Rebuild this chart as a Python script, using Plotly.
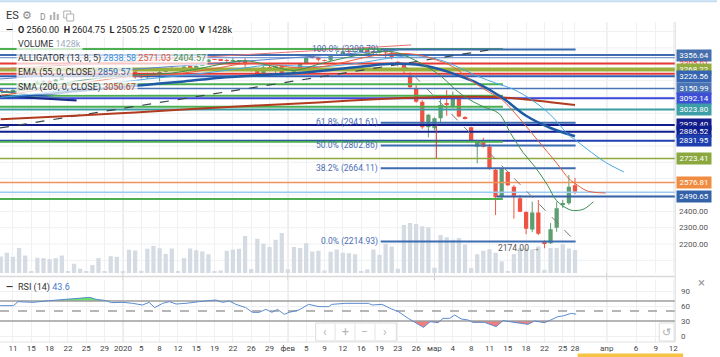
import plotly.graph_objects as go

W, H = 720, 357

# ---------------- data ----------------
# bar index 0 = 11 Dec 2019; one bar per session (Sunday sessions are separate bars)
bar_index = list(range(-2, 93))

open_ = [3145, 3136, 3133, 3142, 3170, 3171, 3175, 3193, 3194, 3191,
         3206, 3222, 3224, 3226, 3228, 3229, 3242, 3240, 3241, 3222,
         3231, 3234, 3256, 3233, 3220, 3245, 3236, 3253, 3275, 3265,
         3267, 3286, 3282, 3290, 3317, 3329, 3328, 3325, 3320, 3321,
         3325, 3272, 3260, 3246, 3282, 3272, 3290, 3240, 3247, 3262,
         3305, 3346, 3342, 3324, 3324, 3358, 3362, 3380, 3375, 3381,
         3383, 3380, 3370, 3388, 3372, 3315, 3296, 3226, 3153, 3071,
         2914, 2908, 2970, 3061, 3040, 3100, 2976, 2914, 2795, 2836,
         2795, 2655, 2490, 2640, 2551, 2480, 2396, 2288, 2392, 2214,
         2204, 2300, 2439, 2449, 2560]
high = [3150, 3143, 3146, 3178, 3183, 3176, 3198, 3200, 3200, 3209,
        3228, 3226, 3230, 3229, 3230, 3243, 3250, 3243, 3244, 3235,
        3236, 3260, 3258, 3235, 3248, 3250, 3267, 3278, 3285, 3268,
        3288, 3294, 3298, 3318, 3330, 3331, 3332, 3332, 3337, 3326,
        3337, 3276, 3262, 3290, 3296, 3290, 3295, 3250, 3270, 3310,
        3345, 3355, 3345, 3327, 3360, 3378, 3384, 3386, 3384, 3384,
        3388, 3385, 3393, 3392, 3374, 3318, 3302, 3250, 3172, 3080,
        2995, 2975, 3092, 3142, 3132, 3110, 2982, 2918, 2830, 2850,
        2810, 2665, 2665, 2645, 2560, 2500, 2400, 2459, 2470, 2222,
        2328, 2459, 2470, 2622, 2604.75]
low = [3133, 3127, 3130, 3135, 3157, 3169, 3173, 3187, 3188, 3189,
       3204, 3221, 3219, 3222, 3226, 3225, 3235, 3238, 3217, 3215,
       3229, 3230, 3212, 3214, 3210, 3232, 3195, 3250, 3261, 3262,
       3262, 3275, 3277, 3288, 3314, 3326, 3322, 3307, 3315, 3301,
       3281, 3255, 3235, 3240, 3268, 3240, 3230, 3236, 3240, 3258,
       3300, 3335, 3318, 3318, 3318, 3352, 3358, 3360, 3368, 3379,
       3376, 3356, 3368, 3338, 3330, 3288, 3240, 3150, 3065, 2905,
       2853, 2895, 2940, 2985, 3030, 2975, 2962, 2830, 2694, 2790,
       2655, 2377, 2480, 2555, 2355, 2395, 2260, 2272, 2255, 2174,
       2200, 2275, 2420, 2440, 2505.25]
close = [3136, 3133, 3142, 3170, 3170, 3175, 3193, 3194, 3191, 3206,
         3222, 3224, 3226, 3228, 3229, 3242, 3240, 3241, 3222, 3231,
         3234, 3256, 3235, 3220, 3245, 3236, 3253, 3275, 3265, 3267,
         3286, 3282, 3290, 3317, 3329, 3328, 3325, 3320, 3321, 3325,
         3300, 3260, 3246, 3282, 3272, 3288, 3245, 3247, 3262, 3305,
         3340, 3342, 3328, 3322, 3358, 3362, 3380, 3375, 3381, 3383,
         3380, 3370, 3388, 3372, 3340, 3296, 3262, 3159, 3071, 2914,
         2991, 2969, 3051, 3051, 3100, 2980, 2970, 2836, 2826, 2795,
         2663, 2486, 2660, 2560, 2495, 2398, 2294, 2392, 2262, 2204,
         2290, 2418, 2449, 2551, 2520]
volume_k = [1020, 1245, 1000, 1550, 1080, 100, 940, 920, 860, 920,
            1080, 100, 570, 265, 100, 490, 920, 100, 1040, 1000,
            100, 1430, 1390, 140, 1490, 1670, 1530, 1180, 1510, 100,
            920, 1510, 1410, 1330, 1160, 100, 160, 1370, 1450, 1490,
            2290, 245, 2120, 1800, 1610, 2060, 2470, 225, 1610, 1550,
            1840, 1330, 1370, 160, 1310, 1450, 1245, 1220, 1160, 100,
            225, 1450, 1120, 1800, 1630, 265, 2960, 3080, 3020, 2880,
            2820, 330, 2350, 2200, 2060, 2160, 1755, 305, 1160, 1370,
            1470, 1245, 715, 100, 1180, 1530, 1530, 1450, 1630, 205,
            1550, 1550, 1775, 1510, 1428]

# date axis
tick_pos = [0, 3, 6, 9, 12, 15, 18, 21, 24, 27, 30, 33, 36, 39, 42, 45, 48, 51, 54,
            57, 60, 63, 66, 69, 72, 75, 78, 81, 84, 87, 90, 92, 97.2, 102, 105.2, 108.1]
tick_text = ["11", "15", "18", "22", "25", "29", "2020", "5", "8", "12", "15", "19", "22",
             "26", "29", "фев", "5", "9", "12", "16", "19", "23", "26", "мар", "4", "8",
             "11", "15", "18", "22", "25", "28", "апр", "6", "9", "12"]
month_pos = [18, 45, 69, 97.2]

# indicators
ema_x = [-2, 4, 10, 16, 22, 28, 34, 40, 46, 52, 58, 62, 66, 70, 73, 76, 80, 84, 88, 92]
ema_v = [3095, 3112, 3135, 3155, 3175, 3195, 3218, 3232, 3245, 3265, 3290, 3303, 3298,
         3268, 3230, 3185, 3098, 2985, 2910, 2859.57]
sma_x = [-2, 10, 20, 30, 40, 50, 57, 64, 70, 76, 80, 84, 88, 92]
sma_v = [2963, 2985, 3005, 3027, 3048, 3066, 3081, 3093, 3100, 3101, 3097, 3085, 3068, 3050.67]
jaw_x = [-2, 2, 6, 10, 14, 18, 22, 26, 30, 34, 38, 42, 46, 50, 54, 58, 62, 66, 70, 73,
         76, 79, 82, 85, 88, 91, 92, 94, 97, 100]
jaw_v = [3098, 3112, 3130, 3150, 3172, 3192, 3210, 3225, 3240, 3258, 3278, 3295, 3290,
         3285, 3295, 3315, 3340, 3352, 3325, 3280, 3228, 3185, 3145, 3080, 2990, 2865,
         2838.58, 2780, 2700, 2641]
teeth_x = [-2, 2, 6, 10, 14, 18, 22, 26, 30, 34, 38, 42, 46, 50, 54, 58, 62, 66, 69, 72,
           75, 78, 80, 83, 86, 89, 91, 92, 94, 97]
teeth_v = [3110, 3130, 3152, 3176, 3200, 3220, 3232, 3240, 3256, 3280, 3305, 3300, 3280,
           3282, 3310, 3345, 3365, 3360, 3330, 3285, 3200, 3128, 3085, 2965, 2830, 2695,
           2600, 2571.03, 2525, 2512]
lips_x = [-2, 2, 6, 10, 14, 18, 22, 26, 30, 34, 38, 42, 46, 50, 54, 58, 62, 65, 67.5, 70,
          72, 74, 77, 79.5, 81.5, 83.5, 85.5, 87.5, 89, 91, 92, 93.5, 95]
lips_v = [3125, 3142, 3165, 3195, 3215, 3232, 3238, 3246, 3270, 3300, 3322, 3292, 3262,
          3300, 3336, 3365, 3378, 3340, 3290, 3230, 3160, 3100, 3040, 3000, 2875, 2760,
          2670, 2560, 2465, 2412, 2404.57, 2415, 2459]

rsi_x = [-2.1, 0.05, 0.87, 3.3, 6, 8.75, 12.6, 13.6, 15.3, 16.1, 18, 19.6, 21.2, 22.3,
         23.2, 24.5, 25.6, 26.7, 28.3, 30.5, 33.2, 34.3, 35.4, 36.5, 38.1, 39.2, 40.3,
         41.4, 42.4, 43.3, 44.4, 45.2, 46.8, 48.4, 50.1, 51.7, 52.2, 54.4, 56.6,
         58.2, 58.8, 60.4, 62, 63.1, 64.7, 65.3, 67.2, 68.3, 69.6, 70.4, 71.5, 72.3,
         73.4, 74.5, 75.3, 77.2, 79.1, 80.2, 82.1, 84.3, 85.4, 87, 87.8, 89.2, 90,
         91.4, 92.2]
rsi_v = [60.7, 60.7, 68.7, 67.3, 70.7, 73.3, 77.3, 73.3, 70.7, 66.7, 67.3, 65.3, 62, 67.3,
         56.7, 65.3, 68.7, 64, 65.3, 68.7, 72, 67.3, 70, 63.3, 56.7, 47.3, 47.3, 53.3,
         47.3, 53.3, 43.3, 47.3, 52, 63.3, 58.7, 58.7, 63.3, 65.3, 65.3,
         65.3, 62, 63.3, 54, 48.7, 35.3, 30.7, 17.3, 28.7, 26.7, 35.3, 35.3, 42, 34, 32,
         27.3, 27.3, 18.7, 30.7, 27.3, 23.3, 30, 26.7, 30.7, 38.7, 40, 45.3, 43.6]

# user drawings: full-width horizontal lines
hline_prices = [3356.64, 3340.0, 3305.01, 3268.0, 3242.0, 3226.56, 3150.99, 3092.14,
                3023.80, 2928.40, 2886.52, 2831.95, 2723.41, 2576.81, 2516.0]
hline_colors = ['#3d6cb0', '#5b83c9', '#e53935', '#9bb03a', '#e53935', '#2f5fb3',
                '#4a74b5', '#3b48d8', '#3a9ba3', '#141d8c', '#0f1f8f', '#1e40b0',
                '#8fa83c', '#f0955a', '#9ccbf2']
hline_widths = [2, 1, 2, 4, 2, 2, 1.5, 2, 2, 2, 2, 2, 1.5, 1.5, 1.5]
# green lines ending at bar 80.2
green_prices = [3393, 3178, 3108, 3040, 2826, 2476]
green_end = 80.2
# line starting at bar 79.2
support_price = 2490.65
support_start = 79.2
# fibonacci retracement
fib_names = ["100.0%", "61.8%", "50.0%", "38.2%", "0.0%"]
fib_prices = [3390.79, 2941.61, 2802.86, 2664.11, 2214.93]
fib_start, fib_end = 60.2, 92.1
fib_diag_x = [61.5, 92.1]
fib_diag_y = [3390.79, 2214.93]
# trend lines
trend_x = [[-2.12, 65.2], [-2.12, 63.1], [-2.12, 77.8], [-2.12, 10.4], [-2.12, 10.4]]
trend_y = [[3271, 3418], [3210, 3387], [2910, 3387], [3135, 3080], [3105, 3078]]
trend_colors = ['#e57373', '#5b83c9', '#37474f', '#4a74b5', '#1a2a8a']
trend_widths = [1, 1, 1.2, 1.5, 2]
trend_dash = ['solid', 'solid', 'dash', 'solid', 'solid']
spike_x, spike_top, spike_bottom = 69.3, 2930, 2725

# right-axis value boxes
box_labels = ['3356.64', '3305.01', '3268.22', '3226.56', '3150.99', '3092.14', '3023.80',
              '2928.40', '2886.52', '2831.95', '2723.41', '2576.81', '2490.65']
box_prices = [3356.64, 3305.01, 3268.22, 3226.56, 3150.99, 3092.14, 3023.80,
              2928.40, 2886.52, 2831.95, 2723.41, 2576.81, 2490.65]
box_colors = ['#4570ad', None, '#93ab3f', '#3564b0', '#4a74b3', '#3e4fd6', '#3c9ea6',
              '#131c88', '#0e1d8e', '#1d3fae', '#8ba83e', '#f08c42', '#3462a8']
price_ticks = [2400, 2300, 2200]
rsi_ticks = [90, 60, 30, 0]

# ---------------- geometry ----------------
X0, X1 = -2.12, 108.4
PLOT_R = 678
MAIN_TOP, MAIN_BOT = 22, 273
RSI_TOP, RSI_BOT = 280, 342
PRICE_LO, PRICE_HI = 2022.5, 3558.6


def fx(p):
    return p / W


def fy(p):
    return 1 - p / H


main_dom = [fy(MAIN_BOT), fy(MAIN_TOP)]
rsi_dom = [fy(RSI_BOT), fy(RSI_TOP)]

UP, DOWN = '#5d9f71', '#ee5444'

fig = go.Figure()

# volume (base axis, below price traces)
fig.add_trace(go.Bar(x=bar_index, y=volume_k, xaxis='x', yaxis='y', width=0.7,
                     marker=dict(color='#d5dbe2', line=dict(width=0)), hoverinfo='skip'))

# candle bodies
body_base = [min(o, c) for o, c in zip(open_, close)]
body_h = [max(abs(c - o), 3) for o, c in zip(open_, close)]
body_col = [UP if c >= o else DOWN for o, c in zip(open_, close)]
wx = {UP: [], DOWN: []}
wy = {UP: [], DOWN: []}
for i, o, h, l, c in zip(bar_index, open_, high, low, close):
    col = UP if c >= o else DOWN
    wx[col] += [i, i, None]
    wy[col] += [l, h, None]
for col in (UP, DOWN):
    fig.add_trace(go.Scatter(x=wx[col], y=wy[col], xaxis='x', yaxis='y2', mode='lines',
                             line=dict(color=col, width=1), hoverinfo='skip'))
fig.add_trace(go.Bar(x=bar_index, y=body_h, base=body_base, xaxis='x', yaxis='y2', width=0.7,
                     marker=dict(color=body_col, line=dict(width=0)), hoverinfo='skip'))

# horizontal drawings
for p, col, w in zip(hline_prices, hline_colors, hline_widths):
    fig.add_trace(go.Scatter(x=[X0, X1], y=[p, p], xaxis='x', yaxis='y2', mode='lines',
                             line=dict(color=col, width=w), hoverinfo='skip'))
for p in green_prices:
    fig.add_trace(go.Scatter(x=[X0, green_end], y=[p, p], xaxis='x', yaxis='y2', mode='lines',
                             line=dict(color='#4caf50', width=2), hoverinfo='skip'))
fig.add_trace(go.Scatter(x=[support_start, X1], y=[support_price, support_price], xaxis='x',
                         yaxis='y2', mode='lines', line=dict(color='#3360a5', width=2),
                         hoverinfo='skip'))
for p in fib_prices:
    fig.add_trace(go.Scatter(x=[fib_start, fib_end], y=[p, p], xaxis='x', yaxis='y2',
                             mode='lines', line=dict(color='#3d6cb0', width=2), hoverinfo='skip'))
fig.add_trace(go.Scatter(x=fib_diag_x, y=fib_diag_y, xaxis='x', yaxis='y2', mode='lines',
                         line=dict(color='#7a7a7a', width=1, dash='dash'), hoverinfo='skip'))
for tx, ty, col, w, d in zip(trend_x, trend_y, trend_colors, trend_widths, trend_dash):
    fig.add_trace(go.Scatter(x=tx, y=ty, xaxis='x', yaxis='y2', mode='lines',
                             line=dict(color=col, width=w, dash=d), hoverinfo='skip'))
fig.add_trace(go.Scatter(x=[spike_x, spike_x], y=[spike_top, spike_bottom], xaxis='x',
                         yaxis='y2', mode='lines', line=dict(color='#c0392b', width=1),
                         hoverinfo='skip'))

# indicators
fig.add_trace(go.Scatter(x=sma_x, y=sma_v, xaxis='x', yaxis='y2', mode='lines',
                         line=dict(color='#b23a1e', width=2, shape='spline'), hoverinfo='skip'))
fig.add_trace(go.Scatter(x=ema_x, y=ema_v, xaxis='x', yaxis='y2', mode='lines',
                         line=dict(color='#1f5aa6', width=2.5, shape='spline'), hoverinfo='skip'))
fig.add_trace(go.Scatter(x=jaw_x, y=jaw_v, xaxis='x', yaxis='y2', mode='lines',
                         line=dict(color='#4aa6e0', width=1, shape='spline'), hoverinfo='skip'))
fig.add_trace(go.Scatter(x=teeth_x, y=teeth_v, xaxis='x', yaxis='y2', mode='lines',
                         line=dict(color='#e6603f', width=1, shape='spline'), hoverinfo='skip'))
fig.add_trace(go.Scatter(x=lips_x, y=lips_v, xaxis='x', yaxis='y2', mode='lines',
                         line=dict(color='#3e8e50', width=1, shape='spline'), hoverinfo='skip'))


# RSI fills
def clip_series(xs, vs, level, above):
    ox, oy = [], []
    for i in range(len(xs)):
        if i > 0:
            v0, v1 = vs[i - 1], vs[i]
            if (v0 - level) * (v1 - level) < 0:
                t = (level - v0) / (v1 - v0)
                ox.append(xs[i - 1] + t * (xs[i] - xs[i - 1]))
                oy.append(level)
        ox.append(xs[i])
        oy.append(max(vs[i], level) if above else min(vs[i], level))
    return ox, oy


for level, above, col in ((70, True, 'rgba(92,222,92,0.9)'), (30, False, 'rgba(240,112,112,0.9)')):
    fig.add_trace(go.Scatter(x=[rsi_x[0], rsi_x[-1]], y=[level, level], xaxis='x2', yaxis='y3',
                             mode='lines', line=dict(width=0, color=col), hoverinfo='skip'))
    cx, cy = clip_series(rsi_x, rsi_v, level, above)
    fig.add_trace(go.Scatter(x=cx, y=cy, xaxis='x2', yaxis='y3', mode='lines', fill='tonexty',
                             fillcolor=col, line=dict(width=0, color=col), hoverinfo='skip'))
for level, dash in ((70, 'solid'), (30, 'solid'), (50, 'dash')):
    fig.add_trace(go.Scatter(x=[X0, X1], y=[level, level], xaxis='x2', yaxis='y3', mode='lines',
                             line=dict(color='#9e9e9e', width=1.4, dash=dash), hoverinfo='skip'))
fig.add_trace(go.Scatter(x=rsi_x, y=rsi_v, xaxis='x2', yaxis='y3', mode='lines',
                         line=dict(color='#5b8bd0', width=1), hoverinfo='skip'))

# ---------------- shapes ----------------
shapes = []
for p in range(2100, 3600, 100):
    shapes.append(dict(type='line', xref='x', yref='y2', x0=X0, x1=X1, y0=p, y1=p,
                       line=dict(color='#eef0f2', width=1), layer='below'))
for m in month_pos:
    shapes.append(dict(type='line', xref='x', yref='paper', x0=m, x1=m, y0=fy(RSI_BOT),
                       y1=fy(MAIN_TOP), line=dict(color='#cdcdcd', width=1), layer='below'))
shapes += [
    dict(type='line', xref='paper', yref='paper', x0=fx(PLOT_R), x1=fx(PLOT_R), y0=fy(RSI_BOT),
         y1=fy(MAIN_TOP), line=dict(color='#d9d9d9', width=1)),
    dict(type='line', xref='paper', yref='paper', x0=0, x1=fx(PLOT_R), y0=fy(276.5), y1=fy(276.5),
         line=dict(color='#d9d9d9', width=1.5)),
    dict(type='line', xref='paper', yref='paper', x0=0, x1=fx(PLOT_R), y0=fy(RSI_BOT), y1=fy(RSI_BOT),
         line=dict(color='#e3e3e3', width=1)),
    dict(type='line', xref='paper', yref='paper', x0=0, x1=1, y0=fy(1.2), y1=fy(1.2),
         line=dict(color='#c4dcf0', width=2)),
    # navigation buttons
    dict(type='rect', xref='paper', yref='paper', x0=fx(317), x1=fx(398), y0=fy(341), y1=fy(323),
         line=dict(color='#dcdcdc', width=1), fillcolor='rgba(255,255,255,0.9)'),
    dict(type='rect', xref='paper', yref='paper', x0=fx(662), x1=fx(677), y0=fy(341), y1=fy(323),
         line=dict(color='#dcdcdc', width=1), fillcolor='rgba(255,255,255,0.9)'),
    dict(type='rect', xref='paper', yref='paper', x0=fx(580), x1=fx(686), y0=fy(360), y1=fy(353.5),
         line=dict(width=0), fillcolor='#f6c445'),
    # toolbar icons
    dict(type='rect', xref='paper', yref='paper', x0=fx(50), x1=fx(52), y0=fy(20), y1=fy(15),
         line=dict(width=0), fillcolor='#b0b0b0'),
    dict(type='rect', xref='paper', yref='paper', x0=fx(53.5), x1=fx(55.5), y0=fy(20), y1=fy(12),
         line=dict(width=0), fillcolor='#b0b0b0'),
    dict(type='rect', xref='paper', yref='paper', x0=fx(57), x1=fx(59), y0=fy(20), y1=fy(14),
         line=dict(width=0), fillcolor='#b0b0b0'),
    dict(type='rect', xref='paper', yref='paper', x0=fx(64), x1=fx(71), y0=fy(18), y1=fy(11),
         line=dict(color='#b0b0b0', width=1), fillcolor='rgba(0,0,0,0)'),
    dict(type='rect', xref='paper', yref='paper', x0=fx(67), x1=fx(74), y0=fy(21), y1=fy(14),
         line=dict(color='#b0b0b0', width=1), fillcolor='white'),
]
for xb in (336.5, 356.5, 376.5):
    shapes.append(dict(type='line', xref='paper', yref='paper', x0=fx(xb), x1=fx(xb),
                       y0=fy(340), y1=fy(324), line=dict(color='#e3e3e3', width=1)))

# ---------------- annotations ----------------
ann = []


def text(x, y, s, size=9, color='#333', anchor='left', bg=None, **kw):
    d = dict(x=fx(x), y=fy(y), xref='paper', yref='paper', text=s, showarrow=False,
             xanchor=anchor, yanchor='middle', font=dict(size=size, color=color))
    if bg:
        d.update(bgcolor=bg)
    d.update(kw)
    ann.append(d)


text(4, 15.5, 'ES', size=11, color='#333')
text(20, 15.5, '⚙', size=11, color='#8a8a8a')
text(38, 16.5, 'D', size=8.5, color='#8a8a8a')
text(4, 29.5, '<b>—</b>', size=9, color='#333')
text(16, 29.5, '<b>O</b> 2560.00 &nbsp;<b>H</b> 2604.75 &nbsp;<b>L</b> 2505.25 &nbsp;<b>C</b> 2520.00 '
     '&nbsp;<b>V</b> 1428k', size=9, color='#222', bg='rgba(255,255,255,0.85)')
lg_bg = 'rgba(255,255,255,0.72)'
text(16, 44, "VOLUME <span style='color:#9eabbd'>1428k</span>", bg=lg_bg)
text(16, 58.5, "ALLIGATOR (13, 8, 5) <span style='color:#3a8fd8'>2838.58</span> "
     "<span style='color:#e0533b'>2571.03</span> <span style='color:#3e8e50'>2404.57</span>", bg=lg_bg)
text(16, 72.5, "EMA (55, 0, CLOSE) <span style='color:#2f66b0'>2859.57</span>", bg=lg_bg)
text(16, 87, "SMA (200, 0, CLOSE) <span style='color:#b5452a'>3050.67</span>", bg=lg_bg)
text(4, 287, '<b>—</b>', size=9, color='#333')
text(16, 287, "RSI (14) <span style='color:#4a7bd0'>43.6</span>", size=9)

# fib labels
for name, p in zip(fib_names, fib_prices):
    ann.append(dict(x=fib_start, y=p, xref='x', yref='y2', text=f'{name} ({p:.2f})',
                    showarrow=False, xanchor='right', yanchor='middle', xshift=-1,
                    font=dict(size=8.5, color='#4a6db5')))
# low marker
ann.append(dict(x=bar_index[89], y=low[89], xref='x', yref='y2', text=f'{low[89]:.2f} →',
                showarrow=False, xanchor='right', yanchor='middle', xshift=-2,
                font=dict(size=8.5, color='#555')))

# right axis boxes
for lab, p, bg in zip(box_labels, box_prices, box_colors):
    d = dict(x=fx(679), y=p, xref='paper', yref='y2', text=lab, showarrow=False,
             xanchor='left', yanchor='middle', width=34, height=11, borderpad=0)
    if bg is None:
        d.update(font=dict(size=8, color='#e53935'))
    else:
        d.update(font=dict(size=8, color='white'), bgcolor=bg)
    ann.append(d)
for p in price_ticks:
    ann.append(dict(x=fx(680), y=p, xref='paper', yref='y2', text=f'{p:.2f}', showarrow=False,
                    xanchor='left', yanchor='middle', font=dict(size=8, color='#555')))
for r in rsi_ticks:
    ann.append(dict(x=fx(682), y=r, xref='paper', yref='y3', text=str(r), showarrow=False,
                    xanchor='left', yanchor='middle', font=dict(size=8, color='#555')))

# chrome glyphs
for xb, g in ((326.5, '‹'), (346.5, '+'), (366.5, '−'), (387, '›')):
    text(xb, 332, g, size=12, color='#b5b5b5', anchor='center')
text(669.5, 332, '↺', size=11, color='#aaaaaa', anchor='center')
text(704, 282.5, '×', size=13, color='#9a9a9a', anchor='center')

fig.update_layout(
    width=W, height=H, margin=dict(l=0, r=0, t=0, b=0),
    paper_bgcolor='white', plot_bgcolor='white', showlegend=False, barmode='overlay',
    font=dict(family='Roboto', size=9, color='#333'),
    xaxis=dict(domain=[0, fx(PLOT_R)], range=[X0, X1], anchor='y', tickvals=tick_pos,
               showticklabels=False, showgrid=True, gridcolor='#eef0f3', zeroline=False,
               showline=False, ticks=''),
    yaxis=dict(domain=main_dom, range=[0, 15500], visible=False),
    yaxis2=dict(overlaying='y', range=[PRICE_LO, PRICE_HI], visible=False),
    xaxis2=dict(domain=[0, fx(PLOT_R)], range=[X0, X1], anchor='y3', tickvals=tick_pos,
                ticktext=tick_text, showgrid=True, gridcolor='#eef0f3', zeroline=False,
                showline=False, ticks='', tickfont=dict(size=8, color='#444')),
    yaxis3=dict(domain=rsi_dom, range=[-12, 112], anchor='x2', tickvals=[0, 60, 90],
                showticklabels=False, showgrid=True, gridcolor='#eef0f3', zeroline=False),
    shapes=shapes, annotations=ann,
)

fig.write_html("out.html", config={'displayModeBar': False},
               post_script="document.body.style.margin='0px';document.body.style.padding='0px';")
